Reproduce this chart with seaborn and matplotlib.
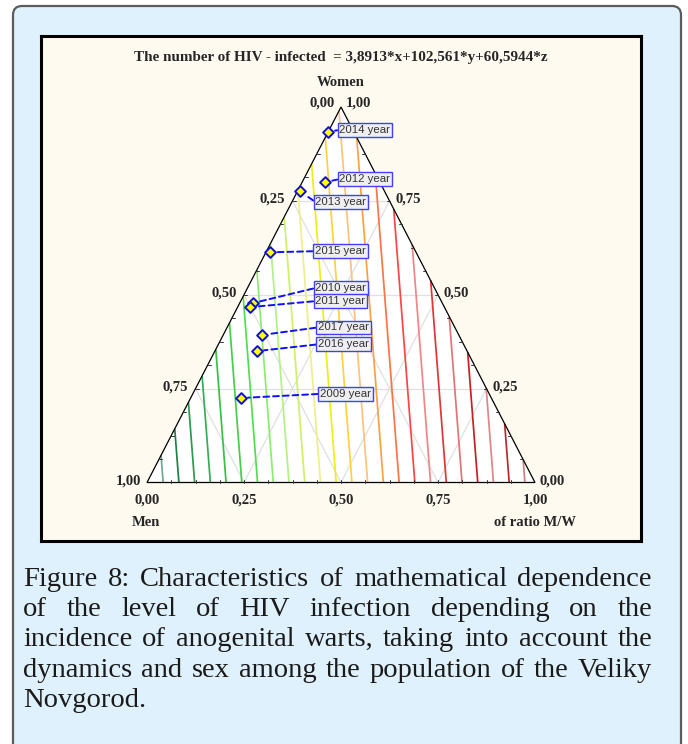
import numpy as np
import pandas as pd
import matplotlib
matplotlib.use("Agg")
import matplotlib.pyplot as plt
import matplotlib.tri as mtri
from matplotlib.patches import FancyBboxPatch, Polygon
from matplotlib.transforms import IdentityTransform
import seaborn as sns

# ---------------- data ----------------
years = ["2009 year", "2010 year", "2011 year", "2012 year", "2013 year",
         "2014 year", "2015 year", "2016 year", "2017 year"]
women = [0.225, 0.478, 0.467, 0.800, 0.776, 0.934, 0.613, 0.350, 0.393]
ratio = [0.130, 0.035, 0.032, 0.060, 0.006, 0.000, 0.010, 0.109, 0.100]
men = [1 - w - r for w, r in zip(women, ratio)]

coef_x, coef_y, coef_z = 3.8913, 102.561, 60.5944   # men, ratio, women
levels = list(range(8, 101, 4))
tick_values = [0.0, 0.25, 0.50, 0.75, 1.0]
tick_labels = ["0,00", "0,25", "0,50", "0,75", "1,00"]

title = "The number of HIV - infected  = 3,8913*x+102,561*y+60,5944*z"
caption_lines = [
    "Figure 8: Characteristics of mathematical dependence",
    "of the level of HIV infection depending on the",
    "incidence of anogenital warts, taking into account the",
    "dynamics and sex among the population of the Veliky",
    "Novgorod.",
]

# ---------------- style ----------------
level_colors = ["#6fa894", "#1c8442", "#2a9a4c", "#35ad55", "#34c244", "#44d044",
                "#4ee04a", "#8aee6a", "#b0f283", "#cdf262", "#eeee8a", "#f0ee10",
                "#ffd23c", "#ffc27e", "#ffa040", "#ff7444", "#ff4444", "#f08686",
                "#e23434", "#e27474", "#c42222", "#e08686", "#b82a2a", "#c48282"]

label_pos = {  # label anchor (cartesian triangle coords) – layout only
    "2009 year": (0.446, 0.236), "2010 year": (0.434, 0.518),
    "2011 year": (0.434, 0.483), "2012 year": (0.496, 0.808),
    "2013 year": (0.434, 0.747), "2014 year": (0.496, 0.939),
    "2015 year": (0.433, 0.616), "2016 year": (0.441, 0.368),
    "2017 year": (0.441, 0.413),
}

sns.set_style("white")
plt.rcParams["font.family"] = ["Liberation Serif", "DejaVu Serif"]

W, H = 688, 744
fig = plt.figure(figsize=(W / 100, H / 100), dpi=100)
fig.patch.set_facecolor("white")

outer = FancyBboxPatch((13, -30), 668, 768, boxstyle="round,pad=0,rounding_size=9",
                       transform=IdentityTransform(), facecolor="#dff1fc",
                       edgecolor="#5c5c5c", linewidth=1.6, zorder=0)
fig.add_artist(outer)

# plot box: triangle base from px 147..535 at y 482.5, apex y 107
px0, py0, sx, sy = 147.0, 482.5, 388.0, 375.5
ax = fig.add_axes([41 / W, (H - 541) / H, 600 / W, 505 / H])
ax.set_xlim((41 - px0) / sx, (641 - px0) / sx)
ax.set_ylim((py0 - 541) / sy, (py0 - 36) / sy)
ax.set_facecolor("#fffaf0")
for s in ax.spines.values():
    s.set_linewidth(2.2)
    s.set_color("black")
ax.set_xticks([])
ax.set_yticks([])


def to_xy(r, w):
    return r + w / 2.0, w


# triangle
corners = [to_xy(0, 0), to_xy(1, 0), to_xy(0, 1)]
ax.add_patch(Polygon(corners, closed=True, facecolor="white", edgecolor="black",
                     linewidth=0.9, zorder=4, fill=False))
ax.add_patch(Polygon(corners, closed=True, facecolor="white", edgecolor="none", zorder=0.5))

# grid lines
gcol = "#e0e0e0"
for v in [0.25, 0.5, 0.75]:
    for (r1, w1), (r2, w2) in [((0, v), (1 - v, v)),        # const women
                               ((v, 0), (v, 1 - v)),        # const ratio
                               ((1 - v, 0), (0, 1 - v))]:   # const men
        a, b = to_xy(r1, w1), to_xy(r2, w2)
        ax.plot([a[0], b[0]], [a[1], b[1]], color=gcol, lw=0.9, zorder=1)

# contours of the linear model
n = 24
rr, ww = [], []
for i in range(n + 1):
    for j in range(n + 1 - i):
        rr.append(i / n)
        ww.append(j / n)
rr = np.array(rr); ww = np.array(ww); mm = 1 - rr - ww
X = rr + ww / 2; Y = ww
Z = coef_x * mm + coef_y * rr + coef_z * ww
tri = mtri.Triangulation(X, Y)
ax.tricontour(tri, Z, levels=levels, colors=level_colors, linewidths=1.25, zorder=2)

# edge ticks
tk = np.arange(1, 16) / 16
for t in tk:
    x, y = to_xy(t, 0)
    ax.plot([x, x], [y, y + 3 / sy], color="#333333", lw=0.7, zorder=4)
    x, y = to_xy(0, t)
    ax.plot([x, x + 3 / sx], [y, y], color="#333333", lw=0.7, zorder=4)
    x, y = to_xy(1 - t, t)
    ax.plot([x, x - 3 / sx], [y, y], color="#333333", lw=0.7, zorder=4)

# tick labels
tfs = 10.5
for v, lab in zip(tick_values, tick_labels):
    x, y = to_xy(v, 0)
    ax.text(x, -18 / sy, lab, ha="center", va="center", fontsize=tfs, fontweight="bold")
for v, lab in zip(tick_values[1:4], tick_labels[1:4]):
    # left edge: men value
    x, y = to_xy(0, 1 - v)
    ax.text(x - 7.5 / sx, y + 1.5 / sy, lab, ha="right", va="center", fontsize=tfs, fontweight="bold")
    # right edge: women value
    x, y = to_xy(1 - v, v)
    ax.text(x + 6 / sx, y + 2 / sy, lab, ha="left", va="center", fontsize=tfs, fontweight="bold")
ax.text(-6 / sx, 1 / sy, tick_labels[-1], ha="right", va="center", fontsize=tfs, fontweight="bold")
ax.text(1 + 4 / sx, 1 / sy, tick_labels[0], ha="left", va="center", fontsize=tfs, fontweight="bold")
ax.text(0.5 - 6 / sx, 1 + 4 / sy, tick_labels[0], ha="right", va="center", fontsize=tfs, fontweight="bold")
ax.text(0.5 + 5 / sx, 1 + 4 / sy, tick_labels[-1], ha="left", va="center", fontsize=tfs, fontweight="bold")

ax.text(0.5, (py0 - 82.5) / sy, "Women", ha="center", va="center", fontsize=tfs, fontweight="bold")
ax.text(0.5, (py0 - 57.5) / sy, title, ha="center", va="center", fontsize=10.9, fontweight="bold")
ax.text((131.5 - px0) / sx, (py0 - 523) / sy, "Men", ha="left", va="center", fontsize=tfs, fontweight="bold")
ax.text((576 - px0) / sx, (py0 - 523) / sy, "of ratio M/W", ha="right", va="center", fontsize=tfs, fontweight="bold")

# points
df = pd.DataFrame({"year": years, "men": men, "ratio": ratio, "women": women})
df["X"] = df["ratio"] + df["women"] / 2
df["Y"] = df["women"]
sns.scatterplot(data=df, x="X", y="Y", marker="D", s=30, color="#ffff00",
                edgecolor="#1010d0", linewidth=1.4, ax=ax, zorder=6, legend=False)
ax.set_xlabel(""); ax.set_ylabel("")

for _, row in df.iterrows():
    lx, ly = label_pos[row["year"]]
    ax.annotate(row["year"], xy=(row["X"], row["Y"]), xytext=(lx, ly), textcoords="data",
                ha="left", va="center", fontsize=8.2, family=["Liberation Sans", "DejaVu Sans"],
                color="#333333", zorder=7,
                bbox=dict(boxstyle="square,pad=0.16", facecolor="#efefef",
                          edgecolor="#4040ff", linewidth=1.0),
                arrowprops=dict(arrowstyle="-", color="#1010ff", lw=1.4,
                                linestyle=(0, (3, 2)), relpos=(0, 0.5),
                                shrinkA=0, shrinkB=5))

# caption (justified)
fig.canvas.draw()
renderer = fig.canvas.get_renderer()
cap_fs = 20.5
x_left, x_right = 23, 652
baselines = [586, 616, 646, 677, 707]
for k, (line, base) in enumerate(zip(caption_lines, baselines)):
    words = line.split(" ")
    texts = [fig.text(0, (H - base) / H, wd, fontsize=cap_fs, color="#1a1a1a",
                      family=["Liberation Serif", "DejaVu Serif"], va="baseline", ha="left")
             for wd in words]
    widths = [t.get_window_extent(renderer).width for t in texts]
    space = 0.25 * cap_fs * 100 / 72
    if k < len(caption_lines) - 1 and len(words) > 1:
        gap = max((x_right - x_left - sum(widths)) / (len(words) - 1), 3)
    else:
        gap = space
    x = x_left
    for t, wdt in zip(texts, widths):
        t.set_x(x / W)
        x += wdt + gap

fig.savefig("out.png", dpi=100)
